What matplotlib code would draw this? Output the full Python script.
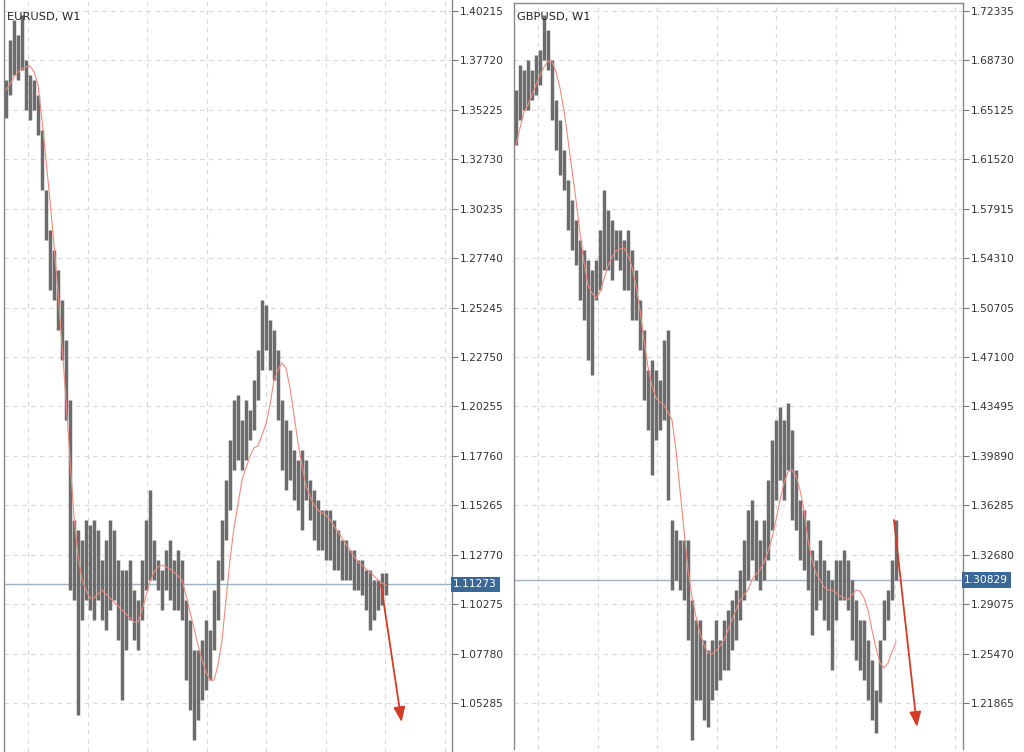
import matplotlib
matplotlib.use("Agg")
import matplotlib.pyplot as plt
import matplotlib.transforms as mtransforms

# EURUSD weekly bars (sampled), high / low and moving average
eur_high = [1.3673, 1.3875, 1.3976, 1.3900, 1.4001, 1.3774, 1.3698, 1.3673, 1.3597, 1.3421,
            1.3118, 1.2916, 1.2815, 1.2714, 1.2563, 1.2361, 1.2058, 1.1452, 1.1402, 1.1351,
            1.1452, 1.1427, 1.1452, 1.1402, 1.1250, 1.1351, 1.1452, 1.1402, 1.1250, 1.1200,
            1.1200, 1.1250, 1.1099, 1.1048, 1.1250, 1.1452, 1.1603, 1.1351, 1.1250, 1.1200,
            1.1301, 1.1351, 1.1250, 1.1301, 1.1250, 1.1048, 1.0947, 1.0796, 1.0796, 1.0846,
            1.0947, 1.0897, 1.1099, 1.1250, 1.1452, 1.1654, 1.1856, 1.2058, 1.2083, 1.1957,
            1.2058, 1.2007, 1.2159, 1.2310, 1.2563, 1.2537, 1.2462, 1.2411, 1.2310, 1.2058,
            1.1957, 1.1906, 1.1805, 1.1755, 1.1805, 1.1755, 1.1654, 1.1603, 1.1553, 1.1502,
            1.1502, 1.1502, 1.1452, 1.1402, 1.1351, 1.1351, 1.1301, 1.1301, 1.1250, 1.1250,
            1.1200, 1.1200, 1.1149, 1.1149, 1.1185, 1.1185]
eur_low = [1.3481, 1.3597, 1.3698, 1.3673, 1.3724, 1.3522, 1.3471, 1.3522, 1.3396, 1.3118,
           1.2865, 1.2613, 1.2563, 1.2411, 1.2260, 1.1957, 1.1099, 1.1048, 1.0468, 1.0947,
           1.1048, 1.0998, 1.0947, 1.1048, 1.0947, 1.0897, 1.0998, 1.1048, 1.0846, 1.0543,
           1.0796, 1.0947, 1.0846, 1.0796, 1.0947, 1.1099, 1.1149, 1.1149, 1.1099, 1.0998,
           1.1099, 1.1048, 1.0998, 1.0998, 1.0947, 1.0644, 1.0493, 1.0341, 1.0442, 1.0543,
           1.0594, 1.0644, 1.0796, 1.0947, 1.1149, 1.1351, 1.1502, 1.1704, 1.1755, 1.1704,
           1.1755, 1.1856, 1.1906, 1.2058, 1.2209, 1.2310, 1.2209, 1.2159, 1.1957, 1.1704,
           1.1603, 1.1654, 1.1553, 1.1502, 1.1402, 1.1553, 1.1452, 1.1351, 1.1301, 1.1301,
           1.1250, 1.1250, 1.1200, 1.1200, 1.1149, 1.1149, 1.1149, 1.1099, 1.1099, 1.1074,
           1.0998, 1.0897, 1.0947, 1.0998, 1.1023, 1.1074]
eur_ma = [1.3623, 1.3653, 1.3688, 1.3714, 1.3729, 1.3739, 1.3744, 1.3714, 1.3648, 1.3471,
          1.3269, 1.3067, 1.2840, 1.2603, 1.2335, 1.2058, 1.1755, 1.1472, 1.1275, 1.1149,
          1.1099, 1.1058, 1.1058, 1.1079, 1.1099, 1.1079, 1.1058, 1.1038, 1.1018, 1.0998,
          1.0978, 1.0957, 1.0937, 1.0937, 1.0998, 1.1068, 1.1139, 1.1190, 1.1215, 1.1225,
          1.1215, 1.1205, 1.1190, 1.1169, 1.1149, 1.1074, 1.0988, 1.0907, 1.0821, 1.0745,
          1.0685, 1.0644, 1.0644, 1.0720, 1.0846, 1.1048, 1.1250, 1.1412, 1.1533, 1.1654,
          1.1715, 1.1775, 1.1816, 1.1826, 1.1881, 1.1937, 1.2033, 1.2159, 1.2209, 1.2245,
          1.2219, 1.2118, 1.1982, 1.1841, 1.1730, 1.1624, 1.1573, 1.1528, 1.1502, 1.1487,
          1.1477, 1.1452, 1.1422, 1.1392, 1.1361, 1.1331, 1.1301, 1.1270, 1.1240, 1.1225,
          1.1205, 1.1190, 1.1169, 1.1149, 1.1134, 1.1124]
eur_last = 1.11273
eur_arrow_start = 1.11273
eur_arrow_end = 1.0432

# GBPUSD weekly bars (sampled)
gbp_high = [1.6657, 1.6840, 1.6803, 1.6876, 1.6803, 1.6913, 1.6949, 1.7204, 1.7095, 1.6876,
            1.6584, 1.6439, 1.6220, 1.6001, 1.5855, 1.5709, 1.5563, 1.5490, 1.5418, 1.5345,
            1.5418, 1.5636, 1.5928, 1.5782, 1.5709, 1.5636, 1.5636, 1.5563, 1.5636, 1.5490,
            1.5345, 1.5126, 1.4907, 1.4615, 1.4688, 1.4615, 1.4542, 1.4834, 1.4907, 1.3521,
            1.3448, 1.3375, 1.3375, 1.3375, 1.2938, 1.2792, 1.2792, 1.2646, 1.2573, 1.2646,
            1.2792, 1.2646, 1.2792, 1.2865, 1.2938, 1.3011, 1.3157, 1.3375, 1.3594, 1.3667,
            1.3521, 1.3375, 1.3521, 1.3813, 1.4105, 1.4251, 1.4345, 1.4251, 1.4375, 1.4178,
            1.3886, 1.3667, 1.3594, 1.3521, 1.3303, 1.3230, 1.3375, 1.3230, 1.3157, 1.3084,
            1.3230, 1.3230, 1.3303, 1.3230, 1.3084, 1.2938, 1.2792, 1.2792, 1.2646, 1.2500,
            1.2282, 1.2646, 1.2938, 1.3011, 1.3230, 1.3521]
gbp_low = [1.6256, 1.6439, 1.6511, 1.6511, 1.6584, 1.6621, 1.6694, 1.6876, 1.6803, 1.6439,
           1.6220, 1.6037, 1.5928, 1.5636, 1.5490, 1.5381, 1.5126, 1.4980, 1.4688, 1.4579,
           1.5126, 1.5199, 1.5345, 1.5345, 1.5272, 1.5418, 1.5345, 1.5199, 1.5199, 1.4980,
           1.4980, 1.4761, 1.4397, 1.4178, 1.3850, 1.4105, 1.4178, 1.4251, 1.3667, 1.3011,
           1.3084, 1.3011, 1.2938, 1.2646, 1.1917, 1.2209, 1.2209, 1.2063, 1.2012, 1.2209,
           1.2282, 1.2354, 1.2427, 1.2427, 1.2573, 1.2646, 1.2792, 1.2938, 1.3084, 1.3230,
           1.3084, 1.3011, 1.3084, 1.3230, 1.3448, 1.3667, 1.3813, 1.3667, 1.3886, 1.3521,
           1.3448, 1.3230, 1.3157, 1.3011, 1.2683, 1.2865, 1.2938, 1.2792, 1.2719, 1.2427,
           1.2792, 1.2938, 1.2938, 1.2865, 1.2646, 1.2500, 1.2427, 1.2354, 1.2209, 1.2063,
           1.1968, 1.2194, 1.2646, 1.2792, 1.2938, 1.3084]
gbp_ma = [1.6256, 1.6380, 1.6497, 1.6548, 1.6621, 1.6694, 1.6767, 1.6825, 1.6869, 1.6862,
          1.6789, 1.6672, 1.6511, 1.6293, 1.6074, 1.5855, 1.5614, 1.5403, 1.5235, 1.5177,
          1.5140, 1.5184, 1.5279, 1.5374, 1.5439, 1.5483, 1.5498, 1.5505, 1.5454, 1.5366,
          1.5235, 1.5053, 1.4834, 1.4637, 1.4499, 1.4411, 1.4382, 1.4360, 1.4309, 1.4251,
          1.4032, 1.3740, 1.3448, 1.3157, 1.2960, 1.2814, 1.2697, 1.2610, 1.2551, 1.2544,
          1.2566, 1.2602, 1.2646, 1.2719, 1.2792, 1.2865, 1.2938, 1.2974, 1.3011, 1.3084,
          1.3128, 1.3157, 1.3215, 1.3288, 1.3390, 1.3521, 1.3667, 1.3791, 1.3871, 1.3886,
          1.3842, 1.3740, 1.3594, 1.3375, 1.3230, 1.3135, 1.3084, 1.3033, 1.3011, 1.3011,
          1.2989, 1.2967, 1.2953, 1.2938, 1.2974, 1.3011, 1.3003, 1.2953, 1.2865, 1.2719,
          1.2588, 1.2478, 1.2442, 1.2478, 1.2559, 1.2632]
gbp_last = 1.30829
gbp_arrow_start = 1.3521
gbp_arrow_end = 1.2012

panels = [
    dict(name="EURUSD, W1", high=eur_high, low=eur_low, ma=eur_ma, last=eur_last,
         arrow=(eur_arrow_start, eur_arrow_end), arrow_x=(93.75, 98.9),
         top_tick=1.40215, step=0.02495, ylim=(1.0281, 1.4077),
         rect=[4 / 1024, 0, 448 / 1024, 1.0], xlim=(-0.5, 111.5), top_spine=False),
    dict(name="GBPUSD, W1", high=gbp_high, low=gbp_low, ma=gbp_ma, last=gbp_last,
         arrow=(gbp_arrow_start, gbp_arrow_end), arrow_x=(94.5, 100.25),
         top_tick=1.72335, step=0.03605, ylim=(1.1851, 1.7292),
         rect=[514 / 1024, 3 / 752, 449 / 1024, 746 / 752], xlim=(-0.5, 111.75), top_spine=True),
]

fig = plt.figure(figsize=(10.24, 7.52), dpi=100)

for p in panels:
    ax = fig.add_axes(p["rect"])
    n = len(p["high"])
    xs = list(range(n))

    # price grid, time grid has no labels
    ticks = [round(p["top_tick"] - p["step"] * k, 5) for k in range(15)]
    ax.set_yticks(ticks)
    ax.set_yticklabels([f"{t:.5f}" for t in ticks])
    ax.set_xticks([5.5 + 14.875 * k for k in range(8)])
    ax.tick_params(axis="x", length=0, labelbottom=False)
    ax.tick_params(axis="y", left=False, right=True, labelleft=False, labelright=True,
                   length=4, width=0.8, color="#777777", labelsize=7.7,
                   labelcolor="#333333", pad=2)
    ax.grid(True, color="#d9d9d9", linestyle=(0, (4, 4)), linewidth=0.8)
    ax.set_axisbelow(True)

    # bars and moving average
    ax.vlines(xs, p["low"], p["high"], color="#6c6c6c", linewidth=2.5, zorder=3)
    ax.plot(xs, p["ma"], color="#f28a7c", linewidth=0.8, zorder=4)

    # last price line + label
    ax.axhline(p["last"], color="#9db2c8", linewidth=1.0, zorder=2)
    trans = mtransforms.blended_transform_factory(ax.transAxes, ax.transData)
    ax.text(1.003, p["last"], f"{p['last']:.5f}", transform=trans, ha="left", va="center",
            fontsize=7.7, color="white", zorder=6, clip_on=False,
            bbox=dict(boxstyle="square,pad=0.25", facecolor="#3c6898", edgecolor="none"))

    # forecast arrow
    ax.annotate("", xy=(p["arrow_x"][1], p["arrow"][1]), xytext=(p["arrow_x"][0], p["arrow"][0]),
                arrowprops=dict(arrowstyle="-|>,head_length=0.9,head_width=0.35",
                                color="#d23b25", linewidth=1.3, shrinkA=0, shrinkB=0),
                zorder=5)

    ax.set_xlim(*p["xlim"])
    ax.set_ylim(*p["ylim"])

    for side in ["left", "right", "top"]:
        ax.spines[side].set_color("#888888")
        ax.spines[side].set_linewidth(1.0)
    ax.spines["bottom"].set_visible(False)
    ax.spines["top"].set_visible(p["top_spine"])

    ax.text(0.006, 0.988 if p["top_spine"] else 0.984, p["name"], transform=ax.transAxes,
            ha="left", va="top", fontsize=8.2, color="#222222")

fig.savefig("out.png", dpi=100)
